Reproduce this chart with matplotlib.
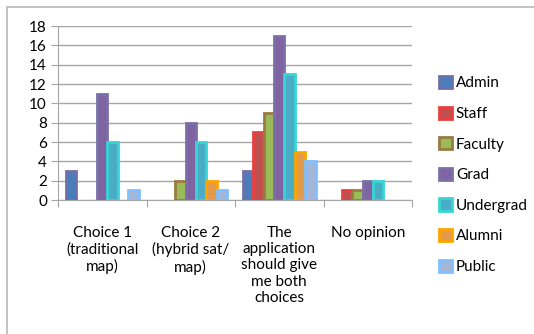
import numpy as np
import matplotlib.pyplot as plt
from matplotlib.patches import Rectangle

plt.rcParams['font.family'] = ['Lato', 'DejaVu Sans']

categories = ['Choice 1\n(traditional\nmap)', 'Choice 2\n(hybrid sat/\nmap)',
              'The\napplication\nshould give\nme both\nchoices', 'No opinion']
groups = ['Admin', 'Staff', 'Faculty', 'Grad', 'Undergrad', 'Alumni', 'Public']
admin = [3, 0, 3, 0]
staff = [0, 0, 7, 1]
faculty = [0, 2, 9, 1]
grad = [11, 8, 17, 2]
undergrad = [6, 6, 13, 2]
alumni = [0, 2, 5, 0]
public = [1, 1, 4, 0]
series = [admin, staff, faculty, grad, undergrad, alumni, public]

fills = ['#4a7ebb', '#c0504d', '#9bbb59', '#8064a2', '#4bacc6', '#e39a4a', '#a3b6d8']
edges = ['#7070a8', '#e84040', '#9a7b40', '#7a70a8', '#36d6d6', '#ffa500', '#7ebfff']

fig = plt.figure(figsize=(5.34, 3.34), dpi=100)
ax = fig.add_axes([58 / 534, 134 / 334, 354 / 534, 174 / 334])

x = np.arange(len(categories))
w = 1 / 8.5
for i, (vals, fc, ec, name) in enumerate(zip(series, fills, edges, groups)):
    vals = np.array(vals, dtype=float)
    pos = x - 0.5 + 0.75 * w + (i + 0.5) * w
    # zero counts get no bar at all (avoids a stray outline on the axis)
    keep = vals > 0
    ax.bar(pos[keep], vals[keep], width=w, color=fc, edgecolor=ec,
           linewidth=2.0, label=name, zorder=3)

ax.set_xlim(-0.5, len(categories) - 0.5)
ax.set_ylim(0, 18)
ax.set_yticks(range(0, 19, 2))
ax.yaxis.grid(True, color='#a6a6a6', linewidth=1.0, zorder=0)
ax.set_xticks(np.arange(-0.5, len(categories), 1.0))
ax.set_xticklabels([])
ax.tick_params(axis='x', length=5, color='#a6a6a6', direction='out')
ax.tick_params(axis='y', length=5, color='#a6a6a6', labelsize=11, pad=3)
for lab, cx in zip(categories, x):
    ax.text(cx, -2.65, lab, ha='center', va='top', fontsize=11,
            linespacing=1.22, transform=ax.transData)
for side in ['top', 'right']:
    ax.spines[side].set_visible(False)
for side in ['left', 'bottom']:
    ax.spines[side].set_color('#a6a6a6')

leg = fig.legend(loc='upper left', bbox_to_anchor=(433 / 534, 1 - 70 / 334),
                 frameon=False, fontsize=11, handlelength=0.85, handleheight=0.85,
                 labelspacing=1.06, handletextpad=0.25, borderaxespad=0)

fig.patches.append(Rectangle((7 / 534, -0.1), 1.2, 1 - 7 / 334 + 0.1,
                             transform=fig.transFigure, fill=False,
                             edgecolor='#b8b8b8', linewidth=1.2))

fig.savefig('out.png', dpi=100)
